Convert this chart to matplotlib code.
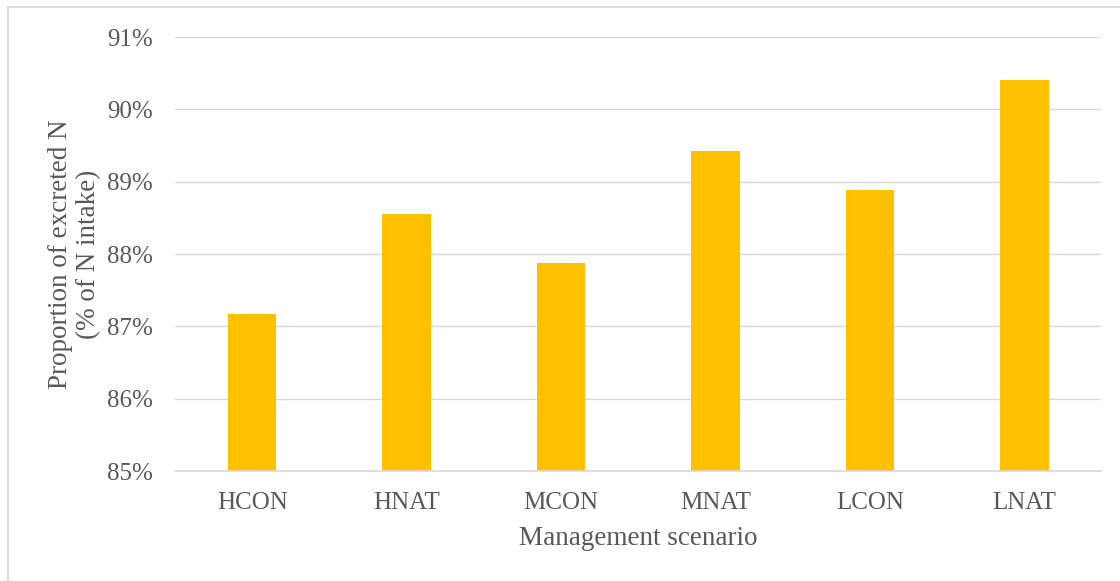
import matplotlib
matplotlib.use("Agg")
import matplotlib.pyplot as plt
from matplotlib.lines import Line2D
from matplotlib.ticker import FuncFormatter

scenarios = ["HCON", "HNAT", "MCON", "MNAT", "LCON", "LNAT"]
excreted_pct = [87.17, 88.55, 87.88, 89.43, 88.89, 90.40]
y_ticks = [85, 86, 87, 88, 89, 90, 91]

plt.rcParams["font.family"] = ["Liberation Serif", "DejaVu Serif"]
text_color = "#595959"
grid_color = "#D9D9D9"

fig = plt.figure(figsize=(11.2, 5.81), dpi=100)
ax = fig.add_axes([0.15625, 0.1893, 0.8272, 0.7470])

x = range(len(scenarios))
ax.bar(x, excreted_pct, width=0.314, color="#FFC000", zorder=3)

ax.set_xlim(-0.5, len(scenarios) - 0.5)
ax.set_ylim(85, 91)
ax.set_yticks(y_ticks)
ax.yaxis.set_major_formatter(FuncFormatter(lambda v, _: f"{v:.0f}%"))
ax.set_xticks(list(x))
ax.set_xticklabels(scenarios)

ax.grid(axis="y", color=grid_color, linewidth=1.0, zorder=0)
for side in ["top", "right", "left"]:
    ax.spines[side].set_visible(False)
ax.spines["bottom"].set_color(grid_color)
ax.spines["bottom"].set_linewidth(1.2)
ax.spines["bottom"].set_zorder(4)

ax.tick_params(axis="both", length=0, labelsize=18, colors=text_color)
ax.tick_params(axis="y", pad=16)
ax.tick_params(axis="x", pad=15)

ax.set_xlabel("Management scenario", fontsize=19.5, color=text_color, labelpad=9)
ax.set_ylabel("Proportion of excreted N\n(% of N intake)", fontsize=19.5,
              color=text_color, labelpad=4, linespacing=1.15)

# light frame around the chart area
fig.add_artist(Line2D([8 / 1120, 1.0], [1 - 7 / 581, 1 - 7 / 581],
                      transform=fig.transFigure, color=grid_color, linewidth=1.2))
fig.add_artist(Line2D([8 / 1120, 8 / 1120], [0.0, 1 - 7 / 581],
                      transform=fig.transFigure, color=grid_color, linewidth=1.2))

fig.savefig("out.png", dpi=100, facecolor="white")
